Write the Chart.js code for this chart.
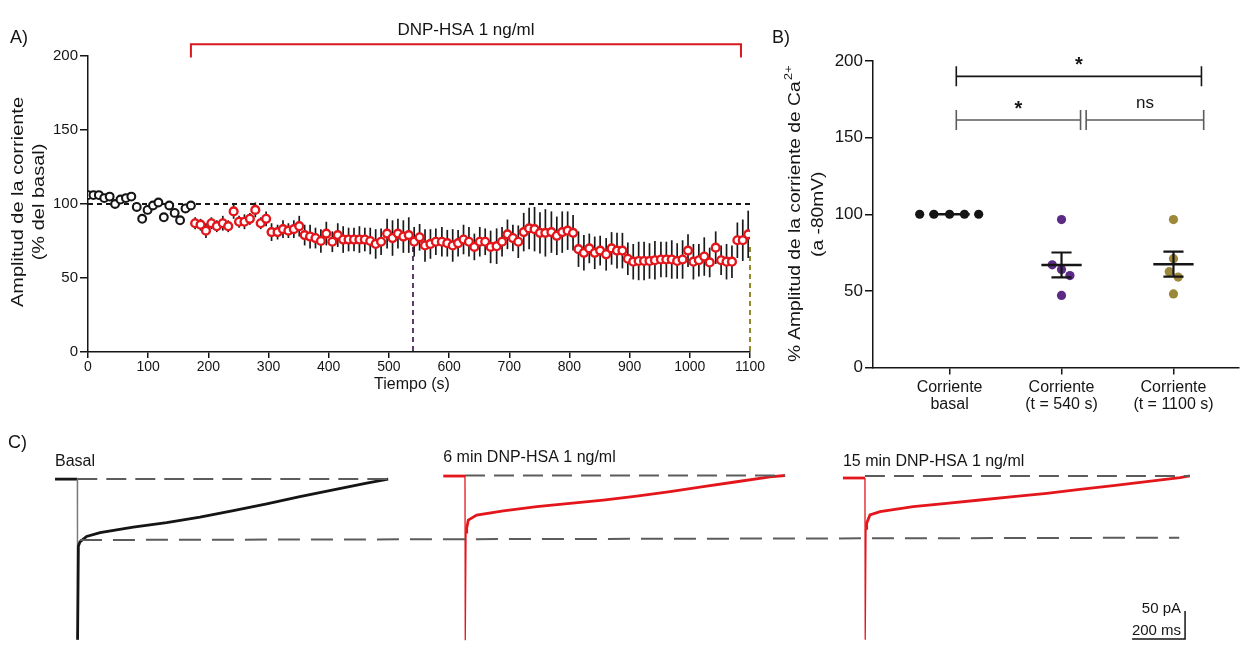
<!DOCTYPE html>
<html lang="es"><head><meta charset="utf-8"><title>DNP-HSA</title>
<script src="https://cdn.jsdelivr.net/npm/chart.js@4.4.1/dist/chart.umd.min.js"></script>
<style>
html,body{margin:0;padding:0;background:#fff}
body{width:1243px;height:645px;position:relative;overflow:hidden}
canvas{position:absolute;display:block}
</style></head><body>
<canvas id="panelA" width="770" height="420" style="left:0;top:0;width:770px;height:420px"></canvas>
<canvas id="panelB" width="473" height="420" style="left:770px;top:0;width:473px;height:420px"></canvas>
<canvas id="panelC" width="1243" height="220" style="left:0;top:425px;width:1243px;height:220px"></canvas>
<script>
// ================= DATOS =================
// Panel A
const tiempoBasal = [0,9,18,27,36,45,54,63,72,81,90,99,108,117,126,135,144,153,162,171];
const amplitudBasal = [106,106,106,104,105,100,103,104,105,98,90,96,99,101,91,99,94,89,97,99];
const tiempoDNP = [178,187,196,205,214,224,233,242,251,260,269,278,287,296,305,315,324,333,342,351,
  360,369,378,387,396,406,415,424,433,442,451,460,469,478,487,497,506,515,524,533,
  542,551,560,569,578,588,597,606,615,624,633,642,651,660,669,679,688,697,706,715,
  724,733,742,751,760,770,779,788,797,806,815,824,833,842,851,861,870,879,888,897,
  906,915,924,933,942,952,961,970,979,988,997,1006,1015,1024,1033,1043,1052,1061,1070,1079,
  1088,1097];
const amplitudDNP = [87,86,82,87,85,87,85,95,88,88,90,96,87,90,81,81,83,82,83,
  85,79,78,77,75,80,74.5,79,76,76,76,76,76,75,73,74.5,80,77,80,78,79,74.5,77.5,72,73,74.5,74.5,73.5,72,73.5,76,74.5,71,74.5,74.5,71,71.5,74.5,79.5,77,74.5,81,83.5,
  83,80.5,80.5,81,78.5,81,82,80.5,69.5,67,70,67,68.5,66,70,68.5,68.5,63,61,61.5,61.5,61.5,62,62.5,62.5,62.5,61.5,62.5,68.5,61,62,64.5,60.5,70.5,62,61,61,75.5,75.5,79.5];
const errorDNP = [4,4,5,4,4,5,4,5,4,5,4,5,4,5,6,5,6,5,6,
  7,7,8,7,8,8,7,8,9,8,8,9,8,9,10,9,10,12,10,11,12,10,9,11,
  10,9,10,9,11,9,10,10,9,10,9,11,12,10,10,9,11,13,14,
  15,14,16,14,13,14,13,12,12,12,10,11,10,11,11,12,12,11,12,13,13,12,13,12,12,13,12,13,11,12,11,13,10,11,10,12,11,12,14,16];
const ticksTiempo = [0,100,200,300,400,500,600,700,800,900,1000,1100];
const ticksAmplitud = [0,50,100,150,200];
const lineaBasal = 100;
const periodoDNP = [171, 1085];
const tiemposMarcados = [540, 1100];

// Panel B
const categoriasB = [['Corriente','basal'], ['Corriente','(t = 540 s)'], ['Corriente','(t = 1100 s)']];
const valoresBasalB = [100,100,100,100,100];
const valores540 = [96.5,67,64,60,47];
const valores1100 = [96.5,71,62.5,59,48];
const ticksB = [0,50,100,150,200];
const significancia = ['*','*','ns'];

// Panel C (tiempo en ms desde el pulso, corriente en pA)
const trazoBasalT = [-84,0,1,4,10,35,86,211,337,463,589,715,840,966,1092,1173];
const trazoBasalI = [0,0,-287,-120,-112,-102.5,-95.4,-85.7,-77.5,-67.9,-56.1,-44.1,-31.1,-19.1,-7.1,0];
const trazo6minT = [-82,0,1,4,6.4,12.5,44,145,271,396,522,648,774,899,1025,1151,1208];
const trazo6minI = [0,0,-293,-100,-93.4,-78.6,-69.6,-62,-54.8,-48.8,-42.9,-35.7,-28,-19.1,-10.2,-1.3,1];
const trazo15minT = [-83,0,1,4,6.4,19,57,182,308,434,560,686,811,937,1063,1189,1226];
const trazo15minI = [0,0,-289,-90,-80.9,-66,-60.2,-51.3,-45.2,-39.3,-33.4,-27.3,-20.2,-13.75,-6.6,0.5,3.6];
const nivelPico = [-110.7, -106.6];
const etiquetasC = ['Basal','6 min DNP-HSA 1 ng/ml','15 min DNP-HSA 1 ng/ml'];
const escalaBarra = {pA: 50, ms: 200};

// ================= ESTILO / DISPOSICIÓN =================
const F = "'Liberation Sans', Arial, Helvetica, sans-serif";
const NEGRO = '#151515', ROJO = '#e3161c', MORADO = '#5b2a86', OLIVA = '#9c8838', GRIS = '#5c5c5c';
const coloresMarcados = ['#5d3a6e', '#8e8b2c'];
const jitterB = [[-0.267,-0.14,0,0.133,0.26],[0,-0.083,0,0.075,0],[0,0,-0.038,0.042,0]];
const bracketsB = [{x0:1.06,x1:3.25,y:190,color:NEGRO},{x0:1.06,x1:2.17,y:161.5,color:GRIS},{x0:2.22,x1:3.27,y:161.5,color:GRIS}];
const desplazMs = [291.7, 1754.7, 3264];
const desplazPa = [-2, 3.5, 0];
const coloresC = [NEGRO, ROJO, ROJO];
const posBarra = {ms: 4472, pA: -287.5};
const topC = 15; // desplazamiento del lienzo C

function texto(ctx, str, x, y, o) {
  ctx.save();
  ctx.font = (o.weight || 'normal') + ' ' + o.size + 'px ' + F;
  ctx.fillStyle = o.color || NEGRO;
  ctx.textAlign = o.align || 'center';
  ctx.textBaseline = 'middle';
  ctx.translate(x, y);
  if (o.rot) ctx.rotate(o.rot);
  if (o.sx) ctx.scale(o.sx, 1);
  ctx.fillText(str, 0, 0);
  ctx.restore();
}
const base = {
  animation: false, responsive: false, devicePixelRatio: 1, events: [],
  plugins: { legend: { display: false }, tooltip: { enabled: false } }
};
function ejes(size, tl, pad) {
  return {
    grid: { drawOnChartArea: false, drawTicks: true, tickLength: tl, color: NEGRO, lineWidth: 1.5 },
    border: { color: NEGRO, width: 1.5 },
    ticks: { color: NEGRO, font: { family: F, size: size, lineHeight: 1.1 }, padding: pad, maxRotation: 0, autoSkip: false }
  };
}

// ================= PANEL A =================
const pluginA = {
  id: 'decorA',
  beforeDatasetsDraw(chart) {
    const { ctx, scales: { x, y } } = chart;
    ctx.save();
    tiemposMarcados.forEach((t, k) => {
      ctx.strokeStyle = coloresMarcados[k]; ctx.lineWidth = 2; ctx.setLineDash([5, 4]);
      ctx.beginPath(); ctx.moveTo(x.getPixelForValue(t), y.getPixelForValue(71));
      ctx.lineTo(x.getPixelForValue(t), y.getPixelForValue(0)); ctx.stroke();
    });
    ctx.setLineDash([]); ctx.strokeStyle = '#1a1a1a'; ctx.lineWidth = 1.7;
    tiempoDNP.forEach((t, i) => {
      const px = x.getPixelForValue(t);
      ctx.beginPath();
      ctx.moveTo(px, y.getPixelForValue(amplitudDNP[i] + errorDNP[i]));
      ctx.lineTo(px, y.getPixelForValue(amplitudDNP[i] - errorDNP[i]));
      ctx.stroke();
    });
    ctx.restore();
  },
  afterDraw(chart) {
    const { ctx, scales: { x, y } } = chart;
    ctx.save();
    ctx.strokeStyle = '#d7191f'; ctx.lineWidth = 2;
    const xa = x.getPixelForValue(periodoDNP[0]), xb = x.getPixelForValue(periodoDNP[1]);
    ctx.beginPath();
    ctx.moveTo(xa, y.getPixelForValue(199)); ctx.lineTo(xa, y.getPixelForValue(208));
    ctx.lineTo(xb, y.getPixelForValue(208)); ctx.lineTo(xb, y.getPixelForValue(199));
    ctx.stroke();
    ctx.restore();
    texto(ctx, 'DNP-HSA 1 ng/ml', x.getPixelForValue((periodoDNP[0] + periodoDNP[1]) / 2), y.getPixelForValue(217.5), { size: 17 });
    texto(ctx, 'A)', 10, 38, { size: 18, align: 'left' });
    const cy = (chart.chartArea.top + chart.chartArea.bottom) / 2 - 2;
    texto(ctx, 'Amplitud de la corriente', 19, cy, { size: 16, rot: -Math.PI / 2, sx: 1.25 });
    texto(ctx, '(% del basal)', 40, cy, { size: 16, rot: -Math.PI / 2, sx: 1.25 });
    texto(ctx, 'Tiempo (s)', (chart.chartArea.left + chart.chartArea.right) / 2 - 7, 385, { size: 16 });
  }
};
const ejeAx = ejes(14, 6, 1), ejeAy = ejes(15, 8, 2);
ejeAx.ticks.callback = v => String(v);
new Chart(document.getElementById('panelA'), {
  type: 'scatter',
  data: { datasets: [
    { data: tiempoDNP.map((t, i) => ({ x: t, y: amplitudDNP[i] })), borderColor: ROJO, backgroundColor: '#fff', pointRadius: 3.9, pointBorderWidth: 2.4, order: 0 },
    { data: tiempoBasal.map((t, i) => ({ x: t, y: amplitudBasal[i] })), borderColor: NEGRO, backgroundColor: '#fff', pointRadius: 3.9, pointBorderWidth: 2.1, order: 1 },
    { data: [{ x: 0, y: lineaBasal }, { x: 1100, y: lineaBasal }], showLine: true, borderColor: NEGRO, borderDash: [5, 4], borderWidth: 2, pointRadius: 0, order: 5 }
  ] },
  options: Object.assign({}, base, {
    layout: { padding: { left: 0, top: 56, right: 20, bottom: 0 } },
    scales: {
      x: Object.assign(ejeAx, { type: 'linear', min: 0, max: 1100,
        afterBuildTicks: s => { s.ticks = ticksTiempo.map(v => ({ value: v })); },
        afterFit: s => { s.height = 68; } }),
      y: Object.assign(ejeAy, { type: 'linear', min: 0, max: 200,
        afterBuildTicks: s => { s.ticks = ticksAmplitud.map(v => ({ value: v })); },
        afterFit: s => { s.width = 88; } })
    }
  }),
  plugins: [pluginA]
});

// ================= PANEL B =================
const gruposB = [valoresBasalB, valores540, valores1100];
const coloresB = [NEGRO, MORADO, OLIVA];
function media(a) { return a.reduce((s, v) => s + v, 0) / a.length; }
function sem(a) { const m = media(a); return Math.sqrt(a.reduce((s, v) => s + (v - m) * (v - m), 0) / (a.length - 1)) / Math.sqrt(a.length); }
const pluginB = {
  id: 'decorB',
  afterDatasetsDraw(chart) {
    const { ctx, scales: { x, y } } = chart;
    ctx.save();
    ctx.strokeStyle = NEGRO; ctx.lineCap = 'butt';
    gruposB.forEach((g, k) => {
      const c = k + 1, m = media(g), e = sem(g);
      ctx.lineWidth = 2.6;
      ctx.beginPath(); ctx.moveTo(x.getPixelForValue(c - 0.18), y.getPixelForValue(m)); ctx.lineTo(x.getPixelForValue(c + 0.18), y.getPixelForValue(m)); ctx.stroke();
      if (e > 0) {
        ctx.lineWidth = 2.2;
        ctx.beginPath();
        ctx.moveTo(x.getPixelForValue(c), y.getPixelForValue(m - e)); ctx.lineTo(x.getPixelForValue(c), y.getPixelForValue(m + e));
        ctx.moveTo(x.getPixelForValue(c - 0.09), y.getPixelForValue(m + e)); ctx.lineTo(x.getPixelForValue(c + 0.09), y.getPixelForValue(m + e));
        ctx.moveTo(x.getPixelForValue(c - 0.09), y.getPixelForValue(m - e)); ctx.lineTo(x.getPixelForValue(c + 0.09), y.getPixelForValue(m - e));
        ctx.stroke();
      }
    });
    bracketsB.forEach((b, k) => {
      ctx.strokeStyle = b.color; ctx.lineWidth = 1.6;
      const x0 = x.getPixelForValue(b.x0), x1 = x.getPixelForValue(b.x1);
      ctx.beginPath();
      ctx.moveTo(x0, y.getPixelForValue(b.y + 6.5)); ctx.lineTo(x0, y.getPixelForValue(b.y - 6.5));
      ctx.moveTo(x0, y.getPixelForValue(b.y)); ctx.lineTo(x1, y.getPixelForValue(b.y));
      ctx.moveTo(x1, y.getPixelForValue(b.y + 6.5)); ctx.lineTo(x1, y.getPixelForValue(b.y - 6.5));
      ctx.stroke();
      const lab = significancia[k];
      const xm = (x0 + x1) / 2;
      if (lab === 'ns') texto(ctx, lab, xm, y.getPixelForValue(b.y + 11), { size: 17 });
      else texto(ctx, lab, xm, y.getPixelForValue(b.y + 7), { size: 20, weight: 'bold' });
    });
    ctx.restore();
  },
  afterDraw(chart) {
    const ctx = chart.ctx;
    texto(ctx, 'B)', 2, 38, { size: 18, align: 'left' });
    const cy = (chart.chartArea.top + chart.chartArea.bottom) / 2;
    ctx.save();
    ctx.translate(26, cy); ctx.rotate(-Math.PI / 2); ctx.scale(1.2, 1);
    ctx.fillStyle = NEGRO; ctx.textBaseline = 'middle'; ctx.textAlign = 'left';
    ctx.font = '16px ' + F;
    const t1 = '% Amplitud de la corriente de Ca';
    const w1 = ctx.measureText(t1).width;
    ctx.font = '11px ' + F;
    const w2 = ctx.measureText('2+').width;
    const x0 = -(w1 + w2) / 2;
    ctx.font = '16px ' + F; ctx.fillText(t1, x0, 0);
    ctx.font = '11px ' + F; ctx.fillText('2+', x0 + w1 + 1, -7);
    ctx.restore();
    texto(ctx, '(a -80mV)', 49, cy, { size: 16, rot: -Math.PI / 2, sx: 1.2 });
  }
};
const ejeBx = ejes(16, 7, 4), ejeBy = ejes(17, 8, 2);
ejeBx.ticks.callback = v => categoriasB[Math.round(v) - 1];
new Chart(document.getElementById('panelB'), {
  type: 'scatter',
  data: { datasets: gruposB.map((g, k) => ({
    data: g.map((v, i) => ({ x: k + 1 + jitterB[k][i], y: v })),
    backgroundColor: coloresB[k], borderWidth: 0, pointRadius: 4.6
  })) },
  options: Object.assign({}, base, {
    layout: { padding: { left: 0, top: 61, right: 3, bottom: 0 } },
    scales: {
      x: Object.assign(ejeBx, { type: 'linear', min: 0.316, max: 3.58,
        afterBuildTicks: s => { s.ticks = categoriasB.map((c, i) => ({ value: i + 1 })); },
        afterFit: s => { s.height = 52.5; } }),
      y: Object.assign(ejeBy, { type: 'linear', min: 0, max: 200,
        afterBuildTicks: s => { s.ticks = ticksB.map(v => ({ value: v })); },
        afterFit: s => { s.width = 103; } })
    }
  }),
  plugins: [pluginB]
});

// ================= PANEL C =================
const trazos = [[trazoBasalT, trazoBasalI], [trazo6minT, trazo6minI], [trazo15minT, trazo15minI]];
const dsC = [];
trazos.forEach((tr, k) => {
  const n = tr[0].length;
  const nivel = tr[1][n - 1] + desplazPa[k];
  dsC.push({ data: [{ x: desplazMs[k], y: nivel }, { x: tr[0][n - 1] + desplazMs[k], y: nivel }],
    showLine: true, borderColor: GRIS, borderWidth: 2, borderDash: [20, 9], pointRadius: 0, order: 0 });
  dsC.push({ data: tr[0].map((t, i) => ({ x: t + desplazMs[k], y: tr[1][i] + desplazPa[k] })),
    showLine: true, borderColor: coloresC[k], borderWidth: 2.8, pointRadius: 0, tension: 0, order: 1,
    segment: {
      borderWidth: c => (c.p0DataIndex === 1 || (k > 0 && c.p0DataIndex === 2)) ? 1.3 : 2.8,
      borderColor: c => (k === 0 && c.p0DataIndex === 1) ? '#7a7a7a' : coloresC[k]
    } });
});
dsC.push({ data: [{ x: desplazMs[0] + 10, y: nivelPico[0] }, { x: trazos[2][0][trazos[2][0].length - 1] + desplazMs[2] - 40, y: nivelPico[1] }],
  showLine: true, borderColor: GRIS, borderWidth: 2, borderDash: [22, 11], pointRadius: 0, order: 0 });
const pluginC = {
  id: 'decorC',
  afterDraw(chart) {
    const { ctx, scales: { x, y } } = chart;
    texto(ctx, 'C)', 8, 3 + topC, { size: 18, align: 'left' });
    trazos.forEach((tr, k) => {
      texto(ctx, etiquetasC[k], x.getPixelForValue(tr[0][0] + desplazMs[k]), (k === 1 ? 18 : 22) + topC, { size: 16, align: 'left' });
    });
    const bx = x.getPixelForValue(posBarra.ms), by = y.getPixelForValue(posBarra.pA);
    ctx.save();
    ctx.strokeStyle = NEGRO; ctx.lineWidth = 1.5;
    ctx.beginPath();
    ctx.moveTo(bx, y.getPixelForValue(posBarra.pA + escalaBarra.pA)); ctx.lineTo(bx, by);
    ctx.lineTo(x.getPixelForValue(posBarra.ms - escalaBarra.ms), by);
    ctx.stroke();
    ctx.restore();
    texto(ctx, escalaBarra.pA + ' pA', bx - 4, by - 30, { size: 15, align: 'right' });
    texto(ctx, escalaBarra.ms + ' ms', bx - 4, by - 8, { size: 15, align: 'right' });
  }
};
new Chart(document.getElementById('panelC'), {
  type: 'scatter',
  data: { datasets: dsC },
  options: Object.assign({}, base, {
    layout: { padding: 0 },
    scales: {
      x: { type: 'linear', display: false, min: 0, max: 4690.6 },
      y: { type: 'linear', display: false, min: -298.2, max: 67.86 + topC / 0.56 }
    }
  }),
  plugins: [pluginC]
});
</script></body></html>
